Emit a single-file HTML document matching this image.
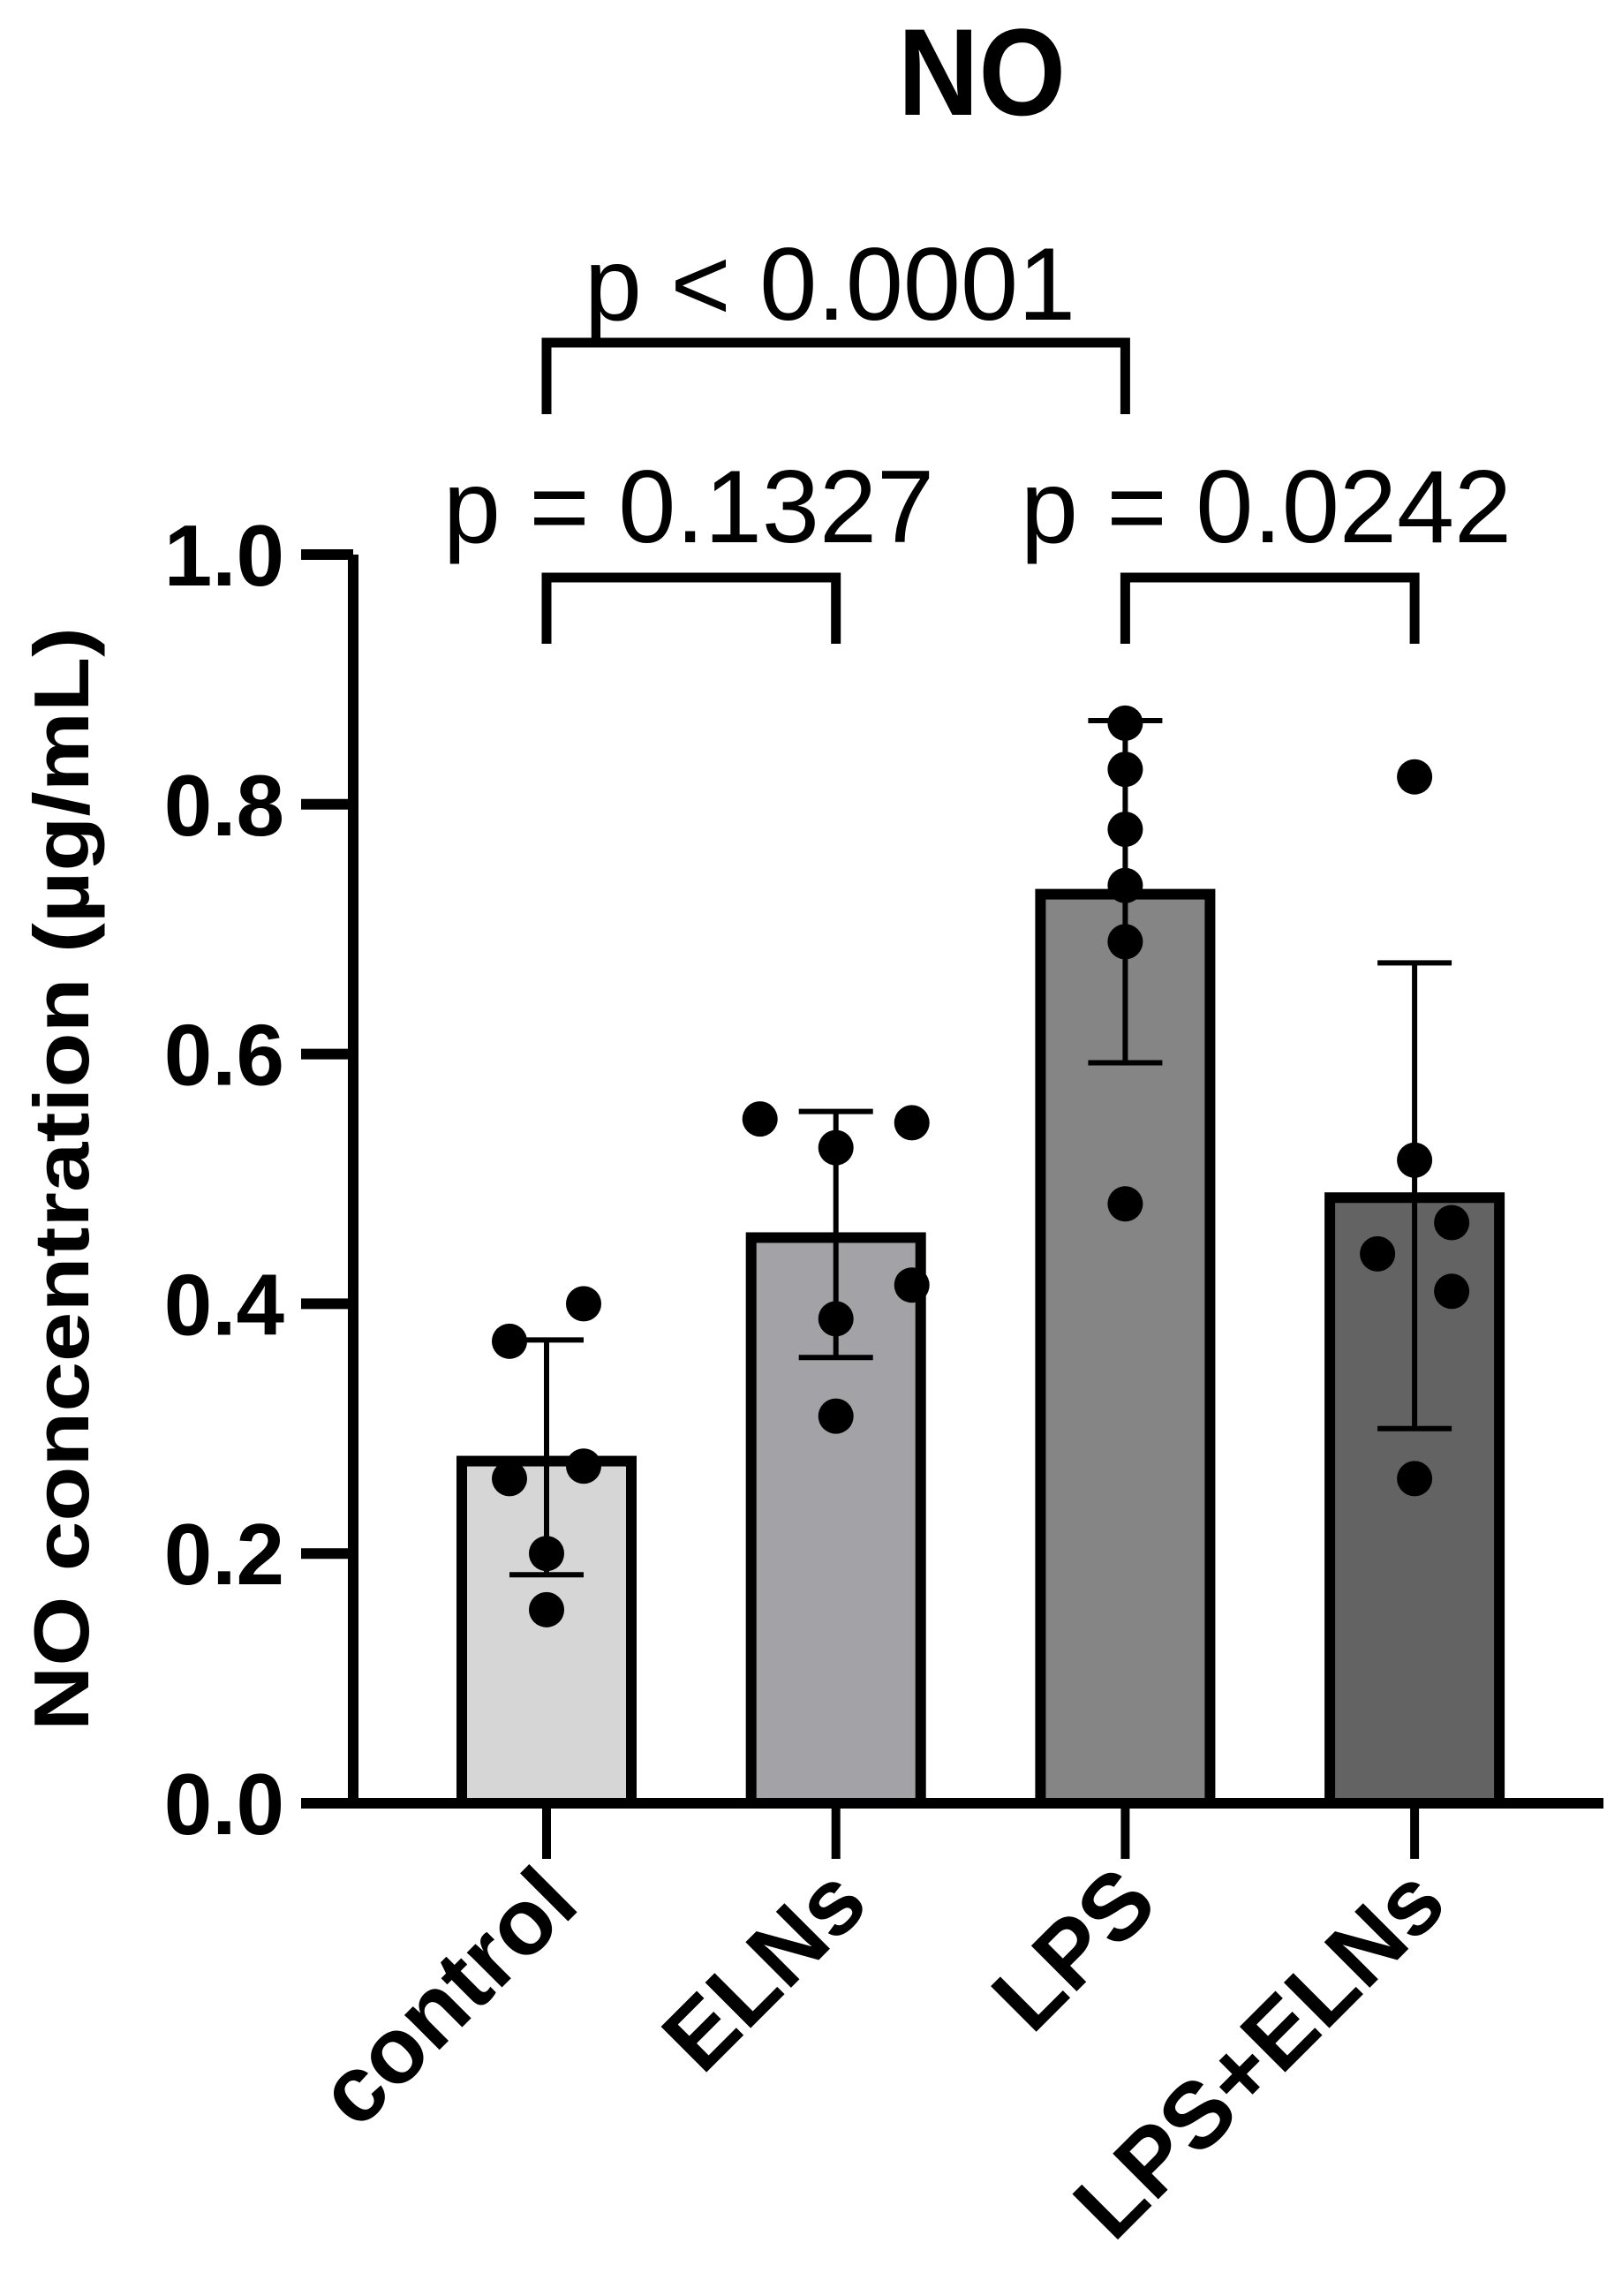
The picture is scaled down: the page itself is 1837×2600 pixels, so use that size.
<!DOCTYPE html>
<html><head><meta charset="utf-8"><style>
html,body{margin:0;padding:0;background:#fff;}
svg{display:block;font-family:"Liberation Sans",Arial,sans-serif;}
</style></head><body>
<svg id="chart" width="1837" height="2600" viewBox="0 0 1837 2600" xmlns="http://www.w3.org/2000/svg">
<rect width="1837" height="2600" fill="#fff"/>
<text x="1112" y="130" font-size="140" font-weight="bold" text-anchor="middle" textLength="190" lengthAdjust="spacingAndGlyphs">NO</text>
<text transform="translate(100,1335) rotate(-90)" font-size="88" font-weight="bold" text-anchor="middle" textLength="1250" lengthAdjust="spacingAndGlyphs">NO concentration (µg/mL)</text>
<g id="bars"></g><g id="errs"></g><g id="dots"></g><g id="axes"></g><g id="sig"></g>
</svg>
<script>
const categories = ["control","ELNs","LPS","LPS+ELNs"];
const means = [0.274, 0.453, 0.728, 0.485];
const sdHigh = [0.371, 0.554, 0.867, 0.673];
const sdLow = [0.183, 0.357, 0.593, 0.300];
const pointsControl = [0.37, 0.40, 0.26, 0.27, 0.20, 0.155];
const pointsELNs = [0.548, 0.545, 0.525, 0.415, 0.388, 0.31];
const pointsLPS = [0.865, 0.828, 0.78, 0.735, 0.69, 0.48];
const pointsLPSELNs = [0.822, 0.515, 0.465, 0.44, 0.41, 0.26];
const yTicks = [0, 0.2, 0.4, 0.6, 0.8, 1.0];
const yTickLabels = ["0.0","0.2","0.4","0.6","0.8","1.0"];
const pLabels = ["p < 0.0001","p = 0.1327","p = 0.0242"];

const NS="http://www.w3.org/2000/svg";
const y = v => 2042 - 1414*v;
const x = i => 619 + i*327.7;
const colors = ["#d6d6d6","#a3a3a7","#858585","#636363"];
const allPts = [pointsControl, pointsELNs, pointsLPS, pointsLPSELNs];
const offs = [[-42,42,-42,42,0,0],[-86,86,0,86,0,0],[0,0,0,0,0,0],[0,0,42,-42,42,0]];
function mk(tag, attrs, parent){const e=document.createElementNS(NS,tag);for(const k in attrs)e.setAttribute(k,attrs[k]);document.getElementById(parent).appendChild(e);return e;}

categories.forEach((c,i)=>{
  const r = mk('rect',{x:x(i)-96,y:y(means[i]),width:192,height:y(0)-y(means[i]),fill:colors[i],stroke:'#000','stroke-width':12},'bars');
  
  
  const e = mk('path',{d:`M${x(i)},${y(sdHigh[i])}V${y(sdLow[i])}M${x(i)-42},${y(sdHigh[i])}H${x(i)+42}M${x(i)-42},${y(sdLow[i])}H${x(i)+42}`,stroke:'#000','stroke-width':6,fill:'none'},'errs');
  
  
  allPts[i].forEach((v,j)=>{
    const d = mk('circle',{cx:x(i)+offs[i][j],cy:y(v),r:20,fill:'#000'},'dots');
    
    
  });
  const t = mk('path',{d:`M${x(i)},${y(0)}V2105`,stroke:'#000','stroke-width':10},'axes');
  
  
  const l = mk('text',{transform:`translate(${x(i)+40},2160) rotate(-45)`,'font-size':106,'font-weight':'bold','text-anchor':'end'},'axes');
  l.textContent = c;
  
  
});
const ya = mk('path',{d:`M400,${y(1)}V${y(0)+6}`,stroke:'#000','stroke-width':12},'axes');


const xa = mk('path',{d:`M341,${y(0)}H1816`,stroke:'#000','stroke-width':12},'axes');


yTicks.forEach((v,i)=>{
  const t = mk('path',{d:`M341,${y(v)}H400`,stroke:'#000','stroke-width':12},'axes');
  
  
  const l = mk('text',{x:322,y:y(v)+35,'font-size':98,'font-weight':'bold','text-anchor':'end'},'axes');
  l.textContent = yTickLabels[i];
  
  
});
const brackets = [[0,2,388,469,940,362],[0,1,654,729,780,614],[2,3,654,729,1434,614]];
brackets.forEach((b,i)=>{
  const p = mk('path',{d:`M${x(b[0])},${b[3]}V${b[2]}H${x(b[1])}V${b[3]}`,stroke:'#000','stroke-width':11,fill:'none'},'sig');
  
  
  const l = mk('text',{x:b[4],y:b[5],'font-size':117,'text-anchor':'middle'},'sig');
  l.textContent = pLabels[i];
  
  
});
</script>
</body></html>
